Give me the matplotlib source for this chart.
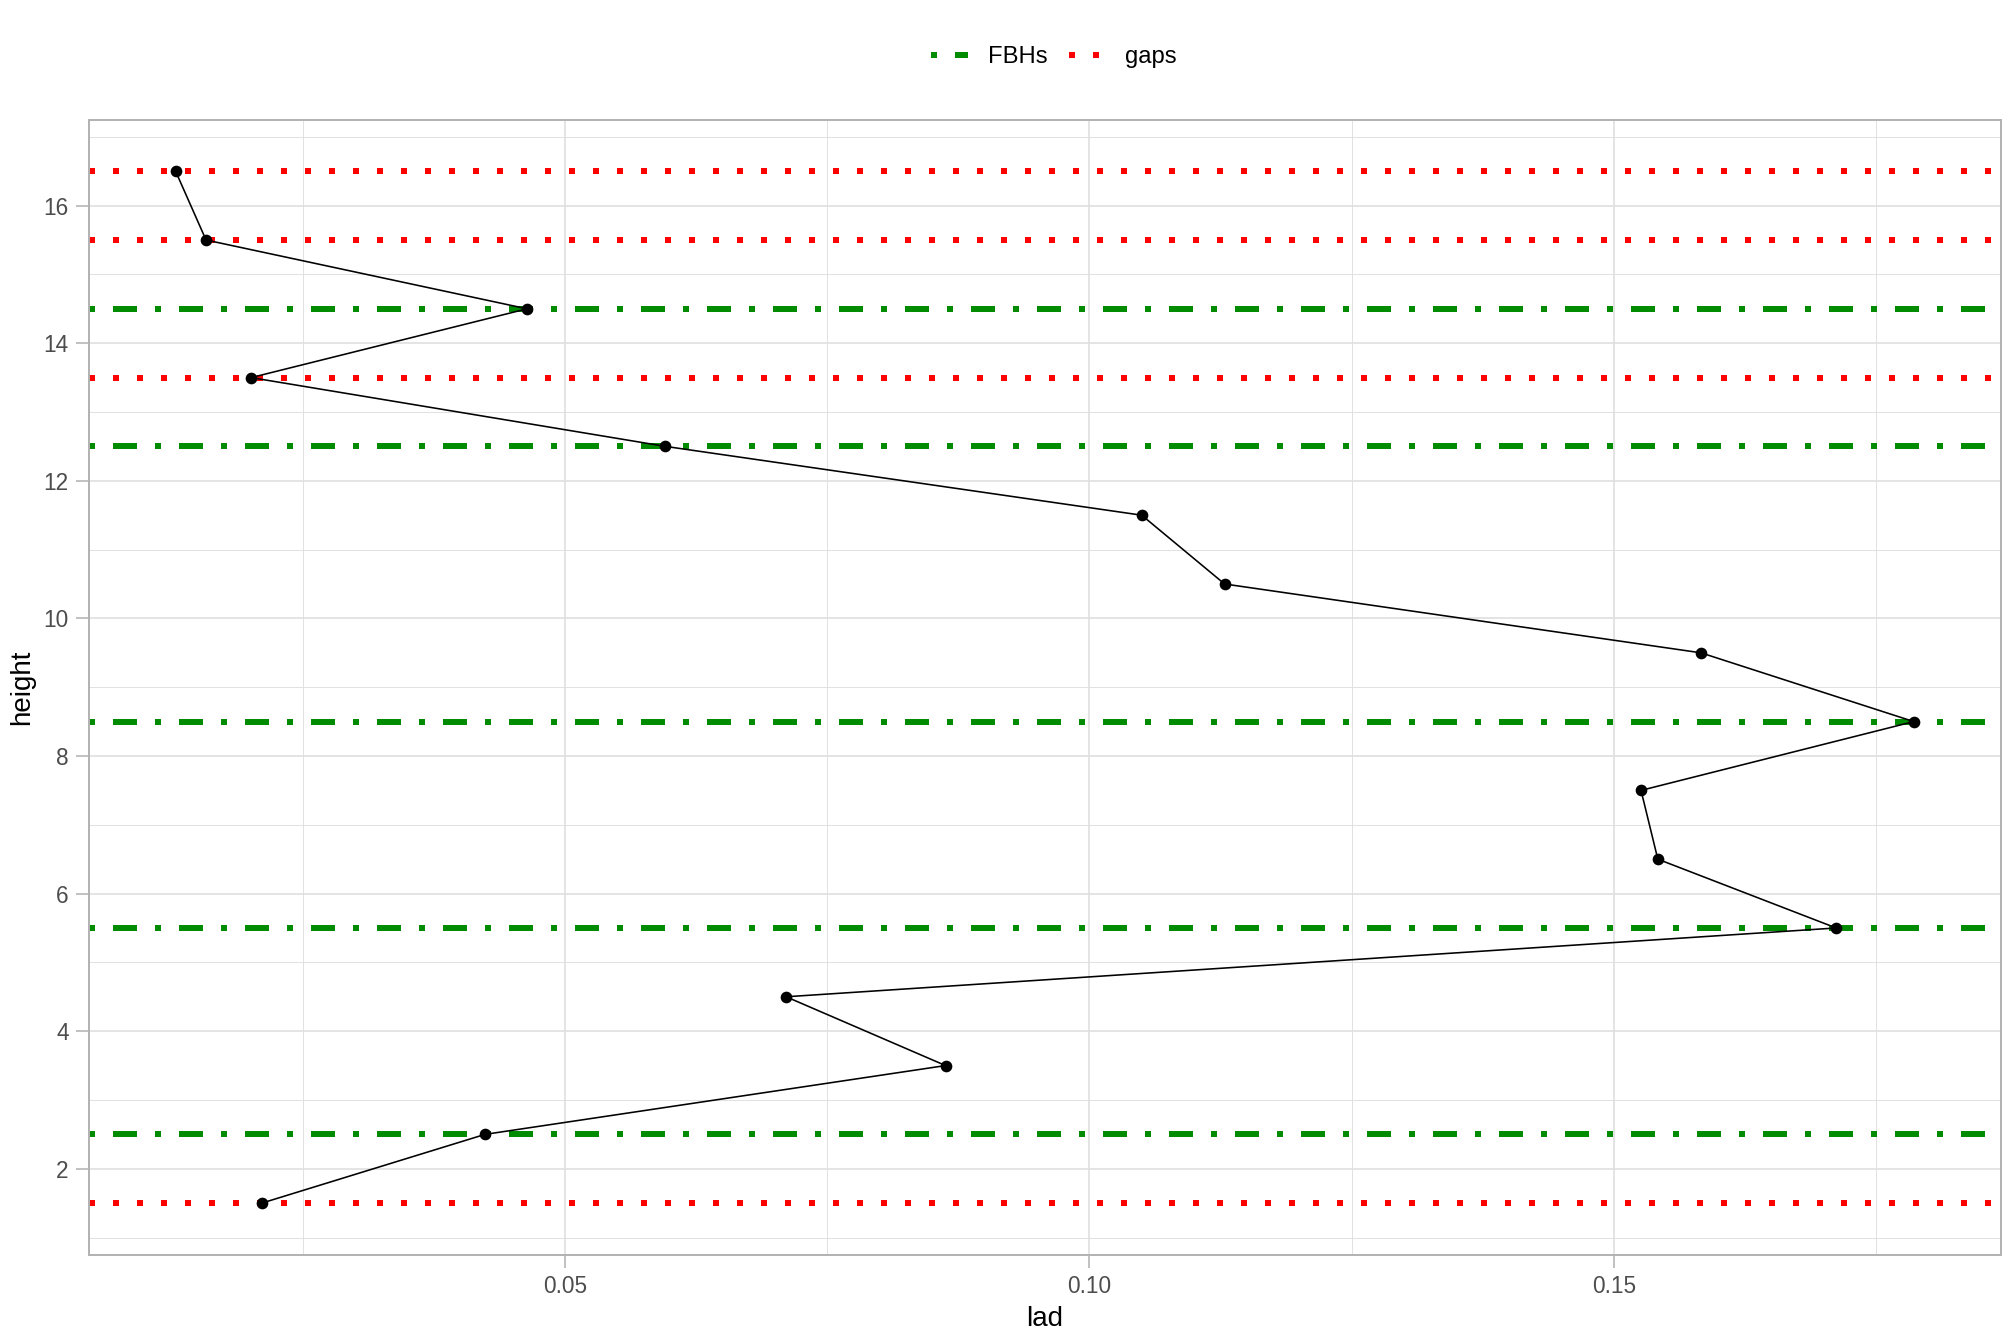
import matplotlib
matplotlib.use("Agg")
import matplotlib.pyplot as plt
from matplotlib.lines import Line2D
from matplotlib.ticker import MultipleLocator

plt.rcParams['font.family'] = ['Liberation Sans', 'DejaVu Sans']

height = [16.5, 15.5, 14.5, 13.5, 12.5, 11.5, 10.5, 9.5, 8.5, 7.5, 6.5, 5.5, 4.5, 3.5, 2.5, 1.5]
lad = [0.0129, 0.0158, 0.0464, 0.0201, 0.0596, 0.1050, 0.1129, 0.1583, 0.1786,
       0.1526, 0.1542, 0.1712, 0.0711, 0.0863, 0.0424, 0.0211]
fbhs = [14.5, 12.5, 8.5, 5.5, 2.5]
gaps = [16.5, 15.5, 13.5, 1.5]

DPI = 192
fig = plt.figure(figsize=(2016 / DPI, 1344 / DPI), dpi=DPI)
ax = fig.add_axes([0.044, 0.0664, 0.9484, 0.8446])

px = 72 / DPI
grid_c = '#DEDEDE'
ax.xaxis.set_major_locator(MultipleLocator(0.05))
ax.xaxis.set_minor_locator(MultipleLocator(0.025))
ax.yaxis.set_major_locator(MultipleLocator(2))
ax.yaxis.set_minor_locator(MultipleLocator(1))
ax.grid(True, which='major', color=grid_c, lw=1.6 * px, zorder=0)
ax.grid(True, which='minor', color=grid_c, lw=0.9 * px, zorder=0)
ax.set_axisbelow(True)

lw_ref = 6 * px
for h in fbhs:
    ax.axhline(h, color='#008B00', lw=lw_ref, dashes=(1, 3, 4, 3),
               dash_capstyle='butt', zorder=2)
for h in gaps:
    ax.axhline(h, color='#FF0000', lw=lw_ref, dashes=(1, 3),
               dash_capstyle='butt', zorder=2)

ax.plot(lad, height, color='black', lw=1.6 * px, zorder=3)
ax.plot(lad, height, 'o', color='black', ms=9 * px, zorder=4)

rng = max(lad) - min(lad)
ax.set_xlim(min(lad) - 0.05 * rng, max(lad) + 0.05 * rng)
ax.set_ylim(0.75, 17.25)

for s in ax.spines.values():
    s.set_color('#B3B3B3')
    s.set_linewidth(2 * px)

ax.tick_params(which='major', length=5, width=1.6 * px, color='#B3B3B3',
               labelcolor='#4D4D4D', labelsize=8.5, pad=2.5)
ax.tick_params(which='minor', length=0)
ax.set_xticks([0.05, 0.10, 0.15])
ax.set_xticklabels(['0.05', '0.10', '0.15'])
ax.set_xlabel('lad', fontsize=10.4, labelpad=3)
ax.set_ylabel('height', fontsize=10.4, labelpad=3)

handles = [
    Line2D([], [], color='#008B00', lw=lw_ref, dashes=(1, 3, 4, 3), dash_capstyle='butt'),
    Line2D([], [], color='#FF0000', lw=lw_ref, dashes=(1, 3), dash_capstyle='butt'),
]
fig.legend(handles, ['FBHs', 'gaps'], loc='center', bbox_to_anchor=(0.5228, 0.9575),
           ncol=2, frameon=False, fontsize=8.9, handlelength=1.56,
           handletextpad=0.84, columnspacing=0.89, borderpad=0, borderaxespad=0)

fig.savefig('out.png', dpi=DPI, facecolor='white')
